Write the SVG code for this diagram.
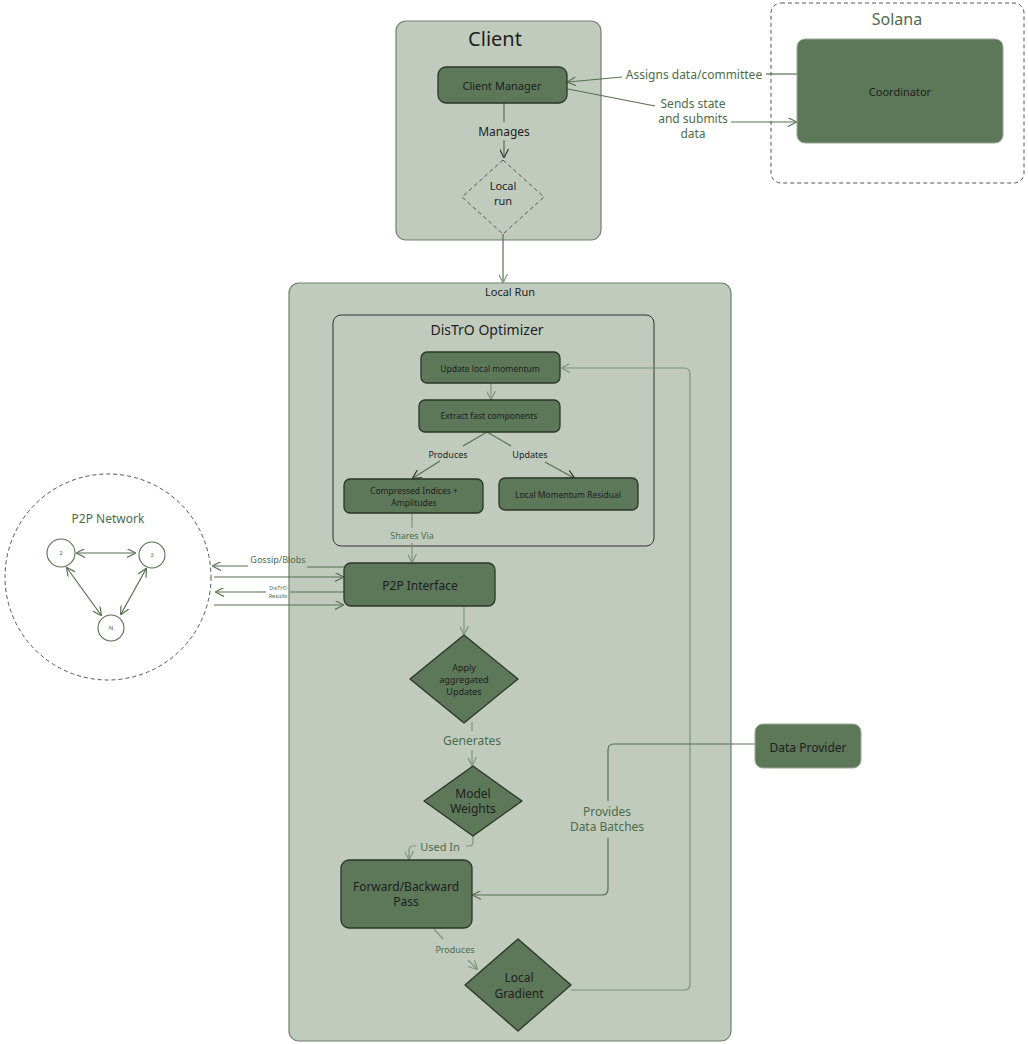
<svg xmlns="http://www.w3.org/2000/svg" width="1028" height="1044" viewBox="0 0 1028 1044">
<style>
text{font-family:"Noto Sans","Liberation Sans",sans-serif;fill:#1e1e1e;text-anchor:middle;dominant-baseline:central}
.cont{fill:#c0cbbe;stroke:#6f806c;stroke-width:1.2}
.node{fill:#5c7859;stroke:#2b3529;stroke-width:1.3}
.lbl{fill:#4d6b4a}
.ln{fill:none;stroke:#56704f;stroke-width:1.2}
.lnl{fill:none;stroke:#7d9579;stroke-width:1.2}
.dash{fill:none;stroke:#555;stroke-width:1;stroke-dasharray:4 3}
</style>
<defs>
<marker id="a" viewBox="0 0 10 10" refX="9" refY="5" markerWidth="9" markerHeight="9" orient="auto-start-reverse" markerUnits="userSpaceOnUse"><path d="M0,0 L10,5 L0,10" fill="none" stroke="#56704f" stroke-width="1.3"/></marker>
<marker id="al" viewBox="0 0 10 10" refX="9" refY="5" markerWidth="9" markerHeight="9" orient="auto-start-reverse" markerUnits="userSpaceOnUse"><path d="M0,0 L10,5 L0,10" fill="none" stroke="#7d9579" stroke-width="1.3"/></marker>
<marker id="ad" viewBox="0 0 10 10" refX="9" refY="5" markerWidth="9" markerHeight="9" orient="auto-start-reverse" markerUnits="userSpaceOnUse"><path d="M0,0 L10,5 L0,10" fill="none" stroke="#333" stroke-width="1.3"/></marker>
</defs>

<g id="client">
<rect class="cont" x="396" y="21" width="205" height="219" rx="10"/>
<text x="495" y="38" font-size="20">Client</text>
</g>
<g id="solana">
<rect class="dash" x="771" y="3" width="253" height="180" rx="10"/>
<text x="897" y="19" font-size="16" class="lbl">Solana</text>
</g>
<g id="localrun">
<rect class="cont" x="289" y="283" width="442" height="758" rx="10"/>
<text x="510" y="291" font-size="11">Local Run</text>
</g>
<g id="distro">
<rect x="333" y="315" width="321" height="231" rx="8" fill="#c0cbbe" stroke="#333" stroke-width="1"/>
<text x="487" y="329" font-size="14">DisTrO Optimizer</text>
</g>
<g id="p2pnet">
<circle cx="108" cy="577" r="103" class="dash"/>
<text x="108" y="518" font-size="12" class="lbl">P2P Network</text>
</g>

<g id="connectors">
<path class="ln" d="M504,103 V122 M504,140 V157" marker-end="url(#ad)" stroke="#333"/>
<path class="ln" d="M503,234 V282" marker-end="url(#al)"/>
<path class="ln" d="M797,74 H766"/>
<path class="ln" d="M622,77 L568,82" marker-end="url(#a)"/>
<path class="ln" d="M568,89 L655,106"/>
<path class="ln" d="M731,122 H796" marker-end="url(#a)"/>
<path class="lnl" d="M491,383 V399" marker-end="url(#al)"/>
<path class="ln" d="M487,432 L463,446 M440,461 L413,478" marker-end="url(#ad)" stroke="#333"/>
<path class="ln" d="M487,432 L511,446 M545,462 L574,478" marker-end="url(#ad)" stroke="#333"/>
<path class="lnl" d="M412,513 V528 M412,543 V562" marker-end="url(#al)"/>
<path class="ln" d="M344,567 H307"/>
<path class="ln" d="M248,566 H213" marker-end="url(#a)"/>
<path class="ln" d="M214,577 H343" marker-end="url(#a)"/>
<path class="ln" d="M344,592 H290"/>
<path class="ln" d="M266,592 H216" marker-end="url(#a)"/>
<path class="ln" d="M214,605 H343" marker-end="url(#a)"/>
<path class="ln" d="M77,553 H135" marker-start="url(#a)" marker-end="url(#a)"/>
<path class="ln" d="M67,568 L101,615" marker-start="url(#a)" marker-end="url(#a)"/>
<path class="ln" d="M146,569 L121,614" marker-start="url(#a)" marker-end="url(#a)"/>
<path class="lnl" d="M464,606 V634" marker-end="url(#al)"/>
<path class="lnl" d="M472,722 V731 M472,750 V765" marker-end="url(#al)"/>
<path class="lnl" d="M473,836 V842 Q473,846 469,846 H466 M416,846 H413 Q409,846 409,850 V859" marker-end="url(#al)"/>
<path class="lnl" d="M434,929 L443,939 M468,960 L477,969" marker-end="url(#al)"/>
<path class="lnl" d="M571,990 H684 Q690,990 690,984 V374 Q690,368 684,368 H562" marker-end="url(#al)"/>
<path class="ln" d="M755,744 H614 Q608,744 608,750 V801 M608,838 V889 Q608,895 602,895 H473" marker-end="url(#a)"/>
</g>

<g id="labels">
<text x="504" y="131" font-size="12">Manages</text>
<text x="694" y="74" font-size="12" class="lbl">Assigns data/committee</text>
<text x="693" y="103" font-size="12" class="lbl">Sends state</text>
<text x="693" y="118" font-size="12" class="lbl">and submits</text>
<text x="693" y="133" font-size="12" class="lbl">data</text>
<text x="448" y="454" font-size="9">Produces</text>
<text x="530" y="454" font-size="9">Updates</text>
<text x="412" y="535" font-size="9" class="lbl">Shares Via</text>
<text x="278" y="559" font-size="9" class="lbl">Gossip/Blobs</text>
<text x="278" y="588" font-size="5.5" class="lbl">DisTrO</text>
<text x="278" y="596" font-size="5.5" class="lbl">Results</text>
<text x="472" y="740" font-size="12" class="lbl">Generates</text>
<text x="440" y="846" font-size="11" class="lbl">Used In</text>
<text x="455" y="949" font-size="9" class="lbl">Produces</text>
<text x="607" y="811" font-size="12" class="lbl">Provides</text>
<text x="607" y="826" font-size="12" class="lbl">Data Batches</text>
</g>

<g id="client-manager">
<rect class="node" x="438" y="67" width="129" height="36" rx="8"/>
<text x="502" y="85" font-size="11">Client Manager</text>
</g>
<g id="local-run-diamond">
<path class="dash" d="M503,160 L544,197 L503,234 L462,197 Z" stroke="#2b3529"/>
<text x="503" y="185" font-size="11">Local</text>
<text x="503" y="200" font-size="11">run</text>
</g>
<g id="coordinator">
<rect x="797" y="39" width="206" height="104" rx="8" fill="#5c7859" stroke="#9aa897" stroke-width="1"/>
<text x="900" y="91" font-size="11">Coordinator</text>
</g>
<g id="update-momentum">
<rect class="node" x="421" y="352" width="139" height="31" rx="6"/>
<text x="490" y="368" font-size="8.5">Update local momentum</text>
</g>
<g id="extract">
<rect class="node" x="419" y="400" width="141" height="32" rx="6"/>
<text x="489" y="415" font-size="8.5">Extract fast components</text>
</g>
<g id="compressed">
<rect class="node" x="344" y="479" width="139" height="34" rx="6"/>
<text x="414" y="490" font-size="8.5">Compressed Indices +</text>
<text x="414" y="502" font-size="8.5">Amplitudes</text>
</g>
<g id="residual">
<rect class="node" x="499" y="478" width="139" height="32" rx="6"/>
<text x="568" y="494" font-size="8.5">Local Momentum Residual</text>
</g>
<g id="p2p-interface">
<rect class="node" x="344" y="563" width="151" height="43" rx="7"/>
<text x="420" y="585" font-size="12">P2P Interface</text>
</g>
<g id="node2">
<circle cx="61" cy="553" r="14" fill="none" stroke="#56704f" stroke-width="1.1"/>
<text x="61" y="553" font-size="6" class="lbl">2</text>
</g>
<g id="node3">
<circle cx="152" cy="555" r="13" fill="none" stroke="#56704f" stroke-width="1.1"/>
<text x="152" y="555" font-size="6" class="lbl">3</text>
</g>
<g id="nodeN">
<circle cx="111" cy="628" r="13" fill="none" stroke="#56704f" stroke-width="1.1"/>
<text x="111" y="628" font-size="6" class="lbl">N</text>
</g>
<g id="apply">
<path class="node" d="M464,635 L518,679 L464,723 L410,679 Z" stroke-linejoin="round"/>
<text x="464" y="667" font-size="9">Apply</text>
<text x="464" y="679" font-size="9">aggregated</text>
<text x="464" y="691" font-size="9">Updates</text>
</g>
<g id="model-weights">
<path class="node" d="M473,766 L522,801 L473,836 L424,801 Z" stroke-linejoin="round"/>
<text x="473" y="793" font-size="12">Model</text>
<text x="473" y="808" font-size="12">Weights</text>
</g>
<g id="fwd-bwd">
<rect class="node" x="341" y="860" width="131" height="68" rx="8"/>
<text x="406" y="886" font-size="12">Forward/Backward</text>
<text x="406" y="901" font-size="12">Pass</text>
</g>
<g id="local-gradient">
<path class="node" d="M518,939 L571,985 L518,1031 L465,985 Z" stroke-linejoin="round"/>
<text x="519" y="977" font-size="12">Local</text>
<text x="519" y="993" font-size="12">Gradient</text>
</g>
<g id="data-provider">
<rect x="755" y="724" width="106" height="44" rx="8" fill="#5c7859" stroke="#9aa897" stroke-width="1"/>
<text x="808" y="747" font-size="12">Data Provider</text>
</g>
</svg>
